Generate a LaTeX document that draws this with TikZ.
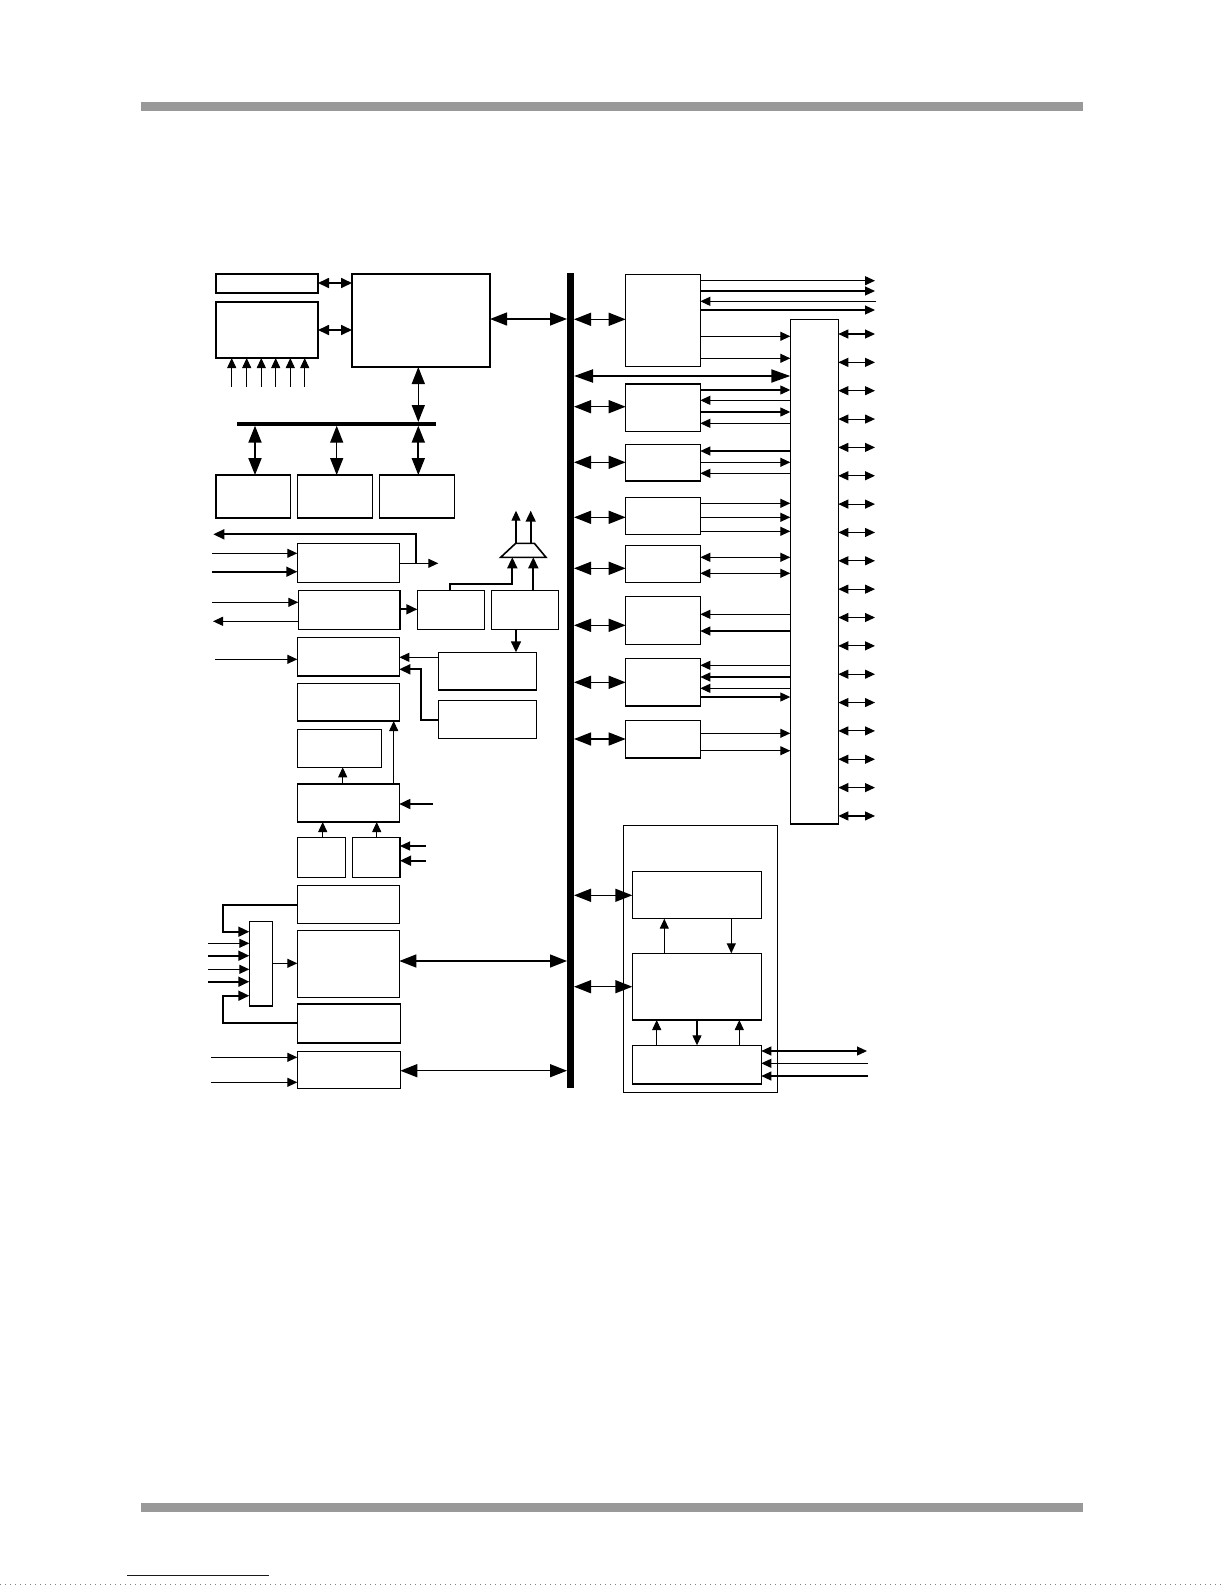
\documentclass[tikz,border=0pt]{standalone}
\usetikzlibrary{arrows.meta}
\definecolor{barg}{HTML}{999999}
\tikzset{
 box/.style={draw, line width=0.7pt, inner sep=0pt, outer sep=0pt},
 bar/.style={fill=black, draw=none, inner sep=0pt, outer sep=0pt},
 ta/.style={line width=0.55pt, >={Triangle[length=5pt,width=4.5pt]}},
 tk/.style={line width=0.85pt, >={Triangle[length=5.5pt,width=5pt]}},
 ba/.style={line width=0.7pt, >={Triangle[length=8.5pt,width=6.5pt]}, <->},
}
\newcommand{\bx}[6][box]{\node[#1, minimum width={(#5-#3)*0.5pt}, minimum height={(#6-#4)*0.5pt}] (#2) at ({(#3+#5)/2},{(#4+#6)/2}) {};}
\begin{document}
\begin{tikzpicture}[x=0.5pt,y=-0.5pt]
\useasboundingbox (0,0) rectangle (1225,1585);
% page decorations
\fill[barg] (141,102.3) rectangle (1082.7,110.7);
\fill[barg] (141,1503) rectangle (1082.7,1511.7);
\draw[blue!85!black, line width=0.6pt] (127,1575.3) -- (269,1575.3);
\draw[gray, line width=0.5pt, dotted] (0,1584.3) -- (1225,1584.3);

% buses
\bx[bar]{bus}{567}{272.7}{574}{1088}
\bx[bar]{hbus}{236.7}{422}{436}{425.7}

% left boxes
\bx{A}{216}{274}{318}{293}
\bx{B}{216}{302}{318}{358}
\bx{C}{352}{274}{490}{367}
\bx{D1}{216}{475}{290.7}{518}
\bx{D2}{297.7}{475}{372.7}{518}
\bx{D3}{379.3}{475}{454.3}{518}
\bx{E1}{297.3}{543.3}{399.3}{582.3}
\bx{E2}{298.3}{590.3}{400}{629.3}
\bx{F1}{417.3}{590.3}{484.3}{629.3}
\bx{F2}{491.3}{590.3}{558.3}{629.3}
\bx{G1}{297.3}{637.3}{399.3}{676}
\bx{G2}{297.3}{683.3}{399.3}{721}
\bx{G3}{297.3}{729.3}{381.7}{767.3}
\bx{G4}{297.3}{784}{399.3}{822}
\bx{H1}{438.3}{652.3}{536.7}{690}
\bx{H2}{438.3}{700.7}{536.7}{738.3}
\bx{J1}{297.3}{837.7}{345.3}{877.3}
\bx{J2}{352.3}{837.7}{400}{877.3}
\bx{K1}{297.3}{885.3}{399.3}{923.3}
\bx{K2}{297.3}{930.7}{399.3}{997.3}
\bx{K3}{297.3}{1004}{400.3}{1043}
\bx{L}{249.3}{921.3}{272.3}{1006}
\bx{M}{297.3}{1051.3}{400.3}{1088.3}

% right boxes
\bx{R1}{625.7}{274.3}{700.3}{366.3}
\bx{R2}{625.7}{384}{700.3}{431.3}
\bx{R3}{625.7}{444.3}{700.3}{481}
\bx{R4}{625.7}{497.3}{700.3}{534.3}
\bx{R5}{625.7}{545.3}{700.3}{582.3}
\bx{R6}{625.7}{596.7}{700.3}{644.3}
\bx{R7}{625.7}{658.3}{700.3}{706}
\bx{R8}{625.7}{720.3}{700.3}{758}
\bx{T}{790.3}{319.3}{838.3}{824}
\bx{S}{623.7}{825.3}{777.3}{1092.7}
\bx{S1}{632.3}{871.3}{761.3}{918.7}
\bx{S2}{632.3}{953.3}{761.3}{1020}
\bx{S3}{632.3}{1045.3}{761.3}{1084}

% multiplexer
\draw[line width=0.8pt] (515.7,543.3) -- (534.3,543.3) -- (546,557.3) -- (500.7,557.3) -- cycle;
\coordinate (muxin1) at (512.3,557.3);
\coordinate (muxin2) at (533.3,557.3);
\coordinate (muxo1) at (516,543.3);
\coordinate (muxo2) at (530.7,543.3);

% ---- left connectors
\draw[tk,<->] (A.east |- 0,283) -- (C.west |- 0,283);
\draw[tk,<->] (B.east |- 0,330) -- (C.west |- 0,330);
\draw[ba] (C.east |- 0,319) -- (bus.west |- 0,319);
\foreach \x in {231.7,246.7,261.3,275.7,290.3,304.7}
  \draw[ta,->] (\x,386.7) -- (B.south -| \x,0);
\draw[ba] (C.south -| 418.3,0) -- (hbus.north -| 418.3,0);
\draw[ba, line width=1pt] (hbus.south -| 255,0) -- (D1.north -| 255,0);
\draw[ba] (hbus.south -| 336.7,0) -- (D2.north -| 336.7,0);
\draw[ba, line width=1pt] (hbus.south -| 418.3,0) -- (D3.north -| 418.3,0);

\draw[ta,->] (212,553.3) -- (E1.west |- 0,553.3);
\draw[tk,->] (212,571.7) -- (E1.west |- 0,571.7);
\coordinate (e1br) at (416,563.3);
\draw[ta,->] (E1.east |- 0,563.3) -- (438.3,563.3);
\draw[tk,->] (e1br) -- (416,534.3) -- (213.3,534.3);
\draw[ta,->] (212,602.3) -- (E2.west |- 0,602.3);
\draw[ta,->] (E2.west |- 0,621.3) -- (213,621.3);
\draw[tk,->] (E2.east |- 0,609.3) -- (F1.west |- 0,609.3);

\draw[tk,->] (F1.north -| 450,0) -- (450,584) -- (512.3,584) -- (muxin1);
\draw[tk,->] (F2.north -| 533.3,0) -- (muxin2);
\draw[ta,->] (muxo1) -- (516,510.7);
\draw[tk,->] (muxo2) -- (530.7,510.7);
\draw[tk,->] (F2.south -| 516,0) -- (H1.north -| 516,0);

\draw[ta,->] (215,659.3) -- (G1.west |- 0,659.3);
\draw[ta,->] (H1.west |- 0,657.3) -- (G1.east |- 0,657.3);
\draw[tk,->] (H2.west |- 0,720) -- (420.7,720) -- (420.7,669.3) -- (G1.east |- 0,669.3);
\draw[ta,->] (G4.north -| 342.7,0) -- (G3.south -| 342.7,0);
\draw[ta,->] (G4.north -| 393.7,0) -- (G2.south -| 393.7,0);
\draw[tk,->] (433,804) -- (G4.east |- 0,804);
\draw[ta,->] (J1.north -| 322.7,0) -- (G4.south -| 322.7,0);
\draw[ta,->] (J2.north -| 376.7,0) -- (G4.south -| 376.7,0);
\draw[ta,->] (426,846) -- (J2.east |- 0,846);
\draw[tk,->] (426,860.7) -- (J2.east |- 0,860.7);

\draw[tk,->] (K1.west |- 0,904.7) -- (222.7,904.7) -- (222.7,931.7) -- (L.west |- 0,931.7);
\draw[tk,->] (K3.west |- 0,1022.7) -- (222.7,1022.7) -- (222.7,995.7) -- (L.west |- 0,995.7);
\foreach \y in {943.3,969.3}
  \draw[ta,->] (208.3,\y) -- (L.west |- 0,\y);
\foreach \y in {955.7,981.7}
  \draw[tk,->] (208.3,\y) -- (L.west |- 0,\y);
\draw[ta,->] (L.east |- 0,963.3) -- (K2.west |- 0,963.3);
\draw[ba] (K2.east |- 0,961) -- (bus.west |- 0,961);
\draw[ta,->] (211,1057.3) -- (M.west |- 0,1057.3);
\draw[ta,->] (211,1082.3) -- (M.west |- 0,1082.3);
\draw[ba] (M.east |- 0,1070.7) -- (bus.west |- 0,1070.7);

% ---- right connectors
\foreach \r/\y in {R1/319.3,R2/406.7,R3/462.3,R4/517.3,R5/568.3,R6/625.3,R7/682.3,R8/739}
  \draw[ba] (bus.east |- 0,\y) -- (\r.west |- 0,\y);
\draw[ba, line width=1pt, >={Triangle[length=9.5pt,width=6.5pt]}] (bus.east |- 0,376) -- (T.west |- 0,376);

\draw[ta,->] (R1.east |- 0,280.7) -- (875,280.7);
\draw[ta,->] (R1.east |- 0,291) -- (875,291);
\draw[ta,->] (876,301.3) -- (R1.east |- 0,301.3);
\draw[ta,->] (R1.east |- 0,310) -- (875,310);

\foreach \r/\y in {R1/336.3,R1/358.3,R2/390,R2/412,R3/462.3,R4/503.3,R4/517.3,R4/531.3,R7/697,R8/733.3,R8/750.7}
  \draw[ta,->] (\r.east |- 0,\y) -- (T.west |- 0,\y);
\foreach \r/\y in {R2/400.3,R2/423.3,R3/451,R3/473.3,R6/614.3,R6/631,R7/665.3,R7/677,R7/688.3}
  \draw[ta,->] (T.west |- 0,\y) -- (\r.east |- 0,\y);
\foreach \r/\y in {R5/557.3,R5/573.3}
  \draw[ta,<->] (\r.east |- 0,\y) -- (T.west |- 0,\y);

\foreach \i [evaluate=\i as \yy using 334+28.35*\i] in {0,...,17}
  \draw[ta,<->] (T.east |- 0,\yy) -- (875,\yy);

\draw[ba] (bus.east |- 0,895.3) -- (S1.west |- 0,895.3);
\draw[ba] (bus.east |- 0,986.7) -- (S2.west |- 0,986.7);
\draw[ta,->] (S2.north -| 664.3,0) -- (S1.south -| 664.3,0);
\draw[ta,->] (S1.south -| 731.3,0) -- (S2.north -| 731.3,0);
\draw[ta,->] (S3.north -| 656.7,0) -- (S2.south -| 656.7,0);
\draw[ta,->] (S2.south -| 697,0) -- (S3.north -| 697,0);
\draw[ta,->] (S3.north -| 739.3,0) -- (S2.south -| 739.3,0);
\draw[ta,<->] (S3.east |- 0,1051) -- (867,1051);
\draw[ta,->] (868,1063.3) -- (S3.east |- 0,1063.3);
\draw[ta,->] (868,1076) -- (S3.east |- 0,1076);
\end{tikzpicture}
\end{document}
